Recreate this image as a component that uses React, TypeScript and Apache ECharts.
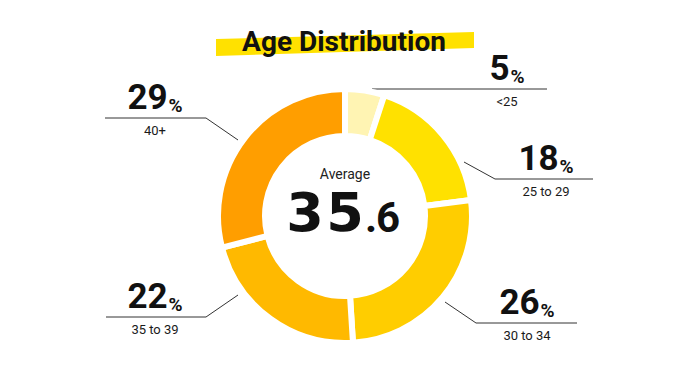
import React, { useEffect, useRef } from 'react';
import * as echarts from 'echarts';

const titleText = 'Age Distribution';
const categories = ['<25', '25 to 29', '30 to 34', '35 to 39', '40+'];
const shares = [5, 18, 26, 22, 29];
const averageLabel = 'Average';
const averageAge = 35.6;

const sliceColors = ['#FFF4B3', '#FFE100', '#FFCD00', '#FFB900', '#FF9E00'];

// label placement: text centre x, guide baseline y, guide polyline
const labelTextX = [507, 546, 527, 155, 155];
const labelLineY = [89, 179, 323, 317, 118];
const labelGuidePoints = [
  [[372, 89], [372, 89], [547, 89]],
  [[464, 162], [495, 179], [593, 179]],
  [[445, 302], [476, 323], [577, 323]],
  [[238, 295], [206, 317], [106, 317]],
  [[238, 140], [206, 118], [105, 118]],
];

export default function App() {
  const ref = useRef<HTMLDivElement>(null);

  useEffect(() => {
    if (!ref.current) return;
    const chart = echarts.init(ref.current, undefined, { renderer: 'svg' });

    const [intPart, fracPart] = averageAge.toFixed(1).split('.');
    const avgText =
      intPart
        .split('')
        .map((d) => `{n|${d}}`)
        .join('') + `{d|.}{f|${fracPart}}`;

    chart.setOption({
      animation: false,
      backgroundColor: '#ffffff',
      graphic: [
        {
          type: 'polygon',
          shape: { points: [[216, 39], [474, 32], [474, 48], [216, 56]] },
          style: { fill: '#FFE100' },
          z: 1,
        },
        {
          type: 'text',
          x: 344,
          y: 41,
          z: 2,
          style: {
            text: titleText,
            fill: '#111111',
            font: 'bold 28px Roboto',
            align: 'center',
            verticalAlign: 'middle',
          },
        },
        {
          type: 'text',
          x: 345,
          y: 174,
          z: 2,
          style: {
            text: averageLabel,
            fill: '#222222',
            font: '14px Roboto',
            align: 'center',
            verticalAlign: 'middle',
          },
        },
        {
          type: 'text',
          x: 342,
          y: 212.5,
          z: 2,
          style: {
            text: avgText,
            fill: '#111111',
            align: 'center',
            verticalAlign: 'middle',
            rich: {
              n: {
                fill: '#111111',
                fontFamily: 'DejaVu Sans',
                fontWeight: 'bold',
                fontSize: 54,
                lineHeight: 44,
                width: 40,
                align: 'center',
              },
              d: {
                fill: '#111111',
                fontFamily: 'Roboto',
                fontWeight: 'bold',
                fontSize: 42,
                width: 12,
                align: 'center',
                padding: [9, 0, 0, 0],
              },
              f: {
                fill: '#111111',
                fontFamily: 'Roboto',
                fontWeight: 'bold',
                fontSize: 42,
                width: 22,
                align: 'center',
                padding: [9, 0, 0, 0],
              },
            },
          },
        },
      ],
      series: [
        {
          type: 'pie',
          center: [345, 216],
          radius: [80, 127],
          startAngle: 90,
          clockwise: true,
          avoidLabelOverlap: false,
          itemStyle: { borderColor: '#ffffff', borderWidth: 6 },
          emphasis: { disabled: true },
          label: {
            show: true,
            position: 'outside',
            formatter: (p: any) => `{v|${p.value}}{p|%}\n{c|${p.name}}`,
            rich: {
              v: {
                fontFamily: 'Roboto',
                fontWeight: 'bold',
                fontSize: 35,
                lineHeight: 40,
                color: '#111111',
              },
              p: {
                fontFamily: 'Roboto',
                fontWeight: 'bold',
                fontSize: 19,
                color: '#111111',
                padding: [15, 0, 0, 1],
              },
              c: {
                fontFamily: 'Roboto',
                fontSize: 13,
                lineHeight: 25,
                color: '#1a1a1a',
              },
            },
          },
          labelLine: {
            show: true,
            length: 10,
            length2: 10,
            smooth: false,
            lineStyle: { color: '#333333', width: 1 },
          },
          labelLayout: (params: any) => {
            const i = params.dataIndex;
            return {
              x: labelTextX[i],
              y: labelLineY[i] - 40.5,
              align: 'center',
              verticalAlign: 'top',
              labelLinePoints: labelGuidePoints[i],
            };
          },
          data: categories.map((name, i) => ({
            name,
            value: shares[i],
            itemStyle: { color: sliceColors[i] },
          })),
        },
      ],
    });

    return () => chart.dispose();
  }, []);

  return (
    <div
      ref={ref}
      style={{ position: 'absolute', left: 0, top: 0, width: 690, height: 380 }}
    />
  );
}
